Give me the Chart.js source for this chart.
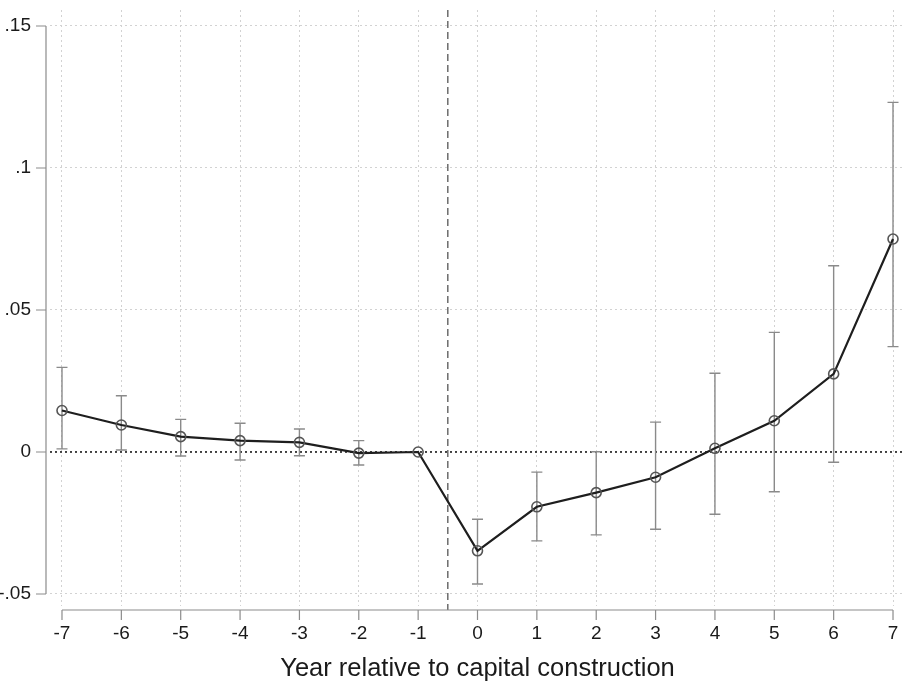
<!DOCTYPE html>
<html>
<head>
<meta charset="utf-8">
<script src="https://cdn.jsdelivr.net/npm/chart.js@4/dist/chart.umd.min.js"></script>
<style>
html,body{margin:0;padding:0;background:#fff;}
#wrap{width:906px;height:682px;}
</style>
</head>
<body>
<div id="wrap"><canvas id="c" width="906" height="682"></canvas></div>
<script>
const years = [-7,-6,-5,-4,-3,-2,-1,0,1,2,3,4,5,6,7];
const coef  = [0.0146,0.0095,0.0054,0.0040,0.0034,-0.0004,0.0000,-0.0348,-0.0193,-0.0143,-0.0089,0.0013,0.0110,0.0275,0.0750];
const ciLow = [0.0011,0.0007,-0.0014,-0.0028,-0.0013,-0.0046,null,-0.0465,-0.0313,-0.0292,-0.0272,-0.0219,-0.0140,-0.0036,0.0371];
const ciHigh= [0.0298,0.0198,0.0115,0.0101,0.0081,0.0040,null,-0.0237,-0.0071,0.0001,0.0105,0.0277,0.0421,0.0656,0.1231];
const yTickValues = [0.15,0.1,0.05,0,-0.05];
const yTickLabels = ['.15','.1','.05','0','-.05'];
const xTitle = 'Year relative to capital construction';
const treatLine = -0.5;

const FONT = "'Liberation Sans', Arial, sans-serif";

const decor = {
  id:'decor',
  beforeDatasetsDraw(chart){
    const ctx = chart.ctx, xs = chart.scales.x, ys = chart.scales.y, a = chart.chartArea;
    ctx.save();
    ctx.strokeStyle = '#111'; ctx.lineWidth = 1.3; ctx.setLineDash([2,3]);
    const y0 = ys.getPixelForValue(0);
    ctx.beginPath(); ctx.moveTo(a.left, y0); ctx.lineTo(a.right, y0); ctx.stroke();
    ctx.strokeStyle = '#555'; ctx.lineWidth = 1.3; ctx.setLineDash([7,4]);
    const xv = xs.getPixelForValue(treatLine);
    ctx.beginPath(); ctx.moveTo(xv, a.top); ctx.lineTo(xv, xs.top + 4); ctx.stroke();
    ctx.setLineDash([]);
    ctx.strokeStyle = '#8a8a8a'; ctx.lineWidth = 1.4;
    years.forEach((yr,i)=>{
      if (ciLow[i]===null) return;
      const px = xs.getPixelForValue(yr);
      const pl = ys.getPixelForValue(ciLow[i]);
      const ph = ys.getPixelForValue(ciHigh[i]);
      ctx.beginPath();
      ctx.moveTo(px, pl); ctx.lineTo(px, ph);
      ctx.moveTo(px-5.5, pl); ctx.lineTo(px+5.5, pl);
      ctx.moveTo(px-5.5, ph); ctx.lineTo(px+5.5, ph);
      ctx.stroke();
    });
    ctx.restore();
  },
  afterDraw(chart){
    const ctx = chart.ctx, xs = chart.scales.x, ys = chart.scales.y;
    ctx.save();
    ctx.strokeStyle = '#8c8c8c'; ctx.lineWidth = 1.2;
    const ax = 46;
    const yt = ys.getPixelForValue(yTickValues[0]), yb = ys.getPixelForValue(yTickValues[yTickValues.length-1]);
    ctx.beginPath(); ctx.moveTo(ax, yt); ctx.lineTo(ax, yb);
    yTickValues.forEach(v=>{ const p = ys.getPixelForValue(v); ctx.moveTo(ax-10,p); ctx.lineTo(ax,p); });
    ctx.stroke();
    const ay = 610;
    const xl = xs.getPixelForValue(years[0]), xr = xs.getPixelForValue(years[years.length-1]);
    ctx.beginPath(); ctx.moveTo(xl, ay); ctx.lineTo(xr, ay);
    years.forEach(v=>{ const p = xs.getPixelForValue(v); ctx.moveTo(p,ay); ctx.lineTo(p,ay+10); });
    ctx.stroke();
    ctx.restore();
  }
};

new Chart(document.getElementById('c'), {
  type:'line',
  data:{
    datasets:[{
      data: years.map((x,i)=>({x:x, y:coef[i]})),
      borderColor:'#1e1e1e',
      borderWidth:2.2,
      pointRadius:5,
      pointBorderColor:'#555',
      pointBackgroundColor:'rgba(255,255,255,0)',
      pointBorderWidth:1.6,
      tension:0
    }]
  },
  options:{
    responsive:false,
    animation:false,
    events:[],
    layout:{autoPadding:false, padding:{top:10,right:1,left:0,bottom:0}},
    plugins:{legend:{display:false},tooltip:{enabled:false}},
    scales:{
      x:{
        type:'linear',
        min:-7.202, max:7.202,
        afterBuildTicks(s){ s.ticks = years.map(v=>({value:v})); },
        afterFit(s){ s.height = 76; s.paddingLeft = 0; s.paddingRight = 0; s.paddingTop = 0; s.paddingBottom = 0; },
        grid:{color:'#d2d2d2', lineWidth:1, drawTicks:false},
        border:{display:false, dash:[2,3]},
        ticks:{
          callback:(v)=>String(v),
          color:'#1a1a1a', font:{family:FONT, size:19}, padding:16,
          maxRotation:0, autoSkip:false
        },
        title:{display:true, text:xTitle, color:'#1a1a1a', font:{family:FONT, size:25.5}, padding:{top:0,bottom:-2}}
      },
      y:{
        type:'linear',
        min:-0.05423, max:0.15563,
        afterBuildTicks(s){ s.ticks = yTickValues.map(v=>({value:v})); },
        afterFit(s){ s.width = 50; s.paddingLeft = 0; s.paddingRight = 0; s.paddingTop = 0; s.paddingBottom = 0; },
        grid:{color:'#d2d2d2', lineWidth:1, drawTicks:false},
        border:{display:false, dash:[2,3]},
        ticks:{
          callback:(v)=>{ const i = yTickValues.findIndex(t=>Math.abs(t-v)<1e-9); return i>=0 ? yTickLabels[i] : ''; },
          color:'#1a1a1a', font:{family:FONT, size:19}, padding:19, autoSkip:false
        }
      }
    }
  },
  plugins:[decor]
});
</script>
</body>
</html>
